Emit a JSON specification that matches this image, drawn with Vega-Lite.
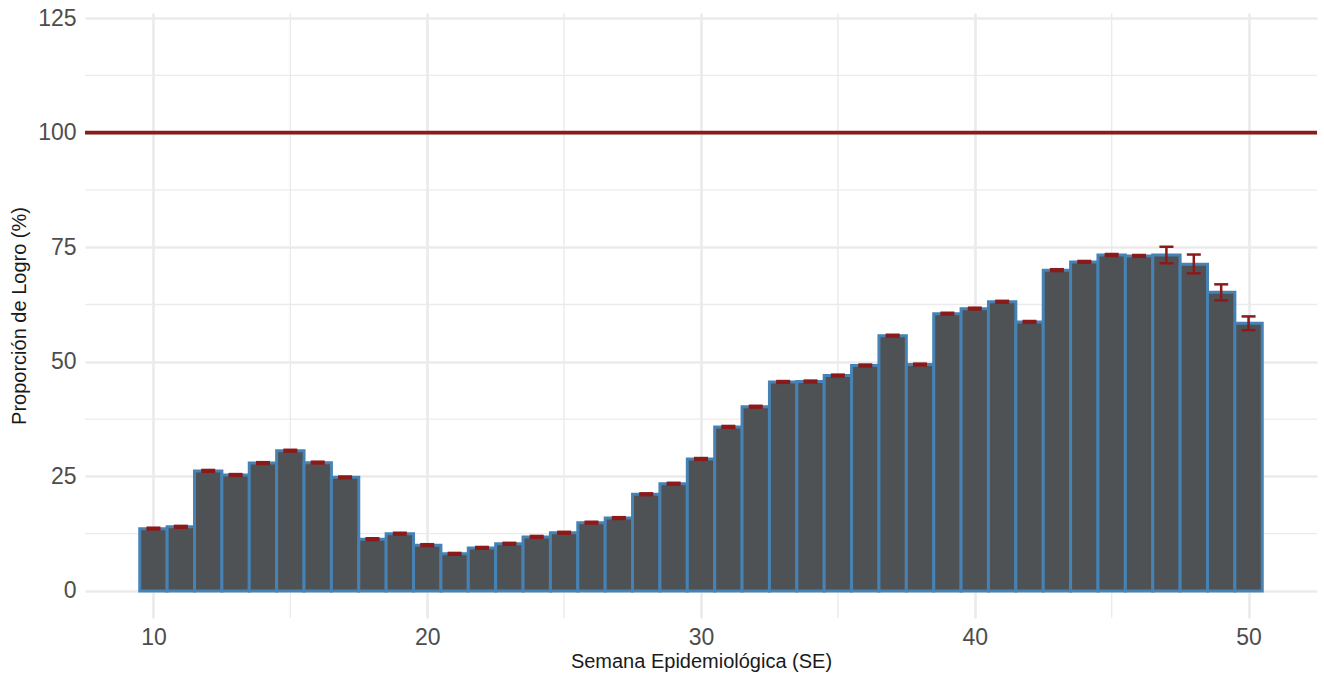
{
  "$schema": "https://vega.github.io/schema/vega-lite/v6.json",
  "width": 1232,
  "height": 605,
  "autosize": {"type": "none"},
  "padding": {"left": 85, "top": 13, "right": 7, "bottom": 62},
  "background": "white",
  "config": {
    "view": {"stroke": null},
    "font": "Liberation Sans",
    "axis": {
      "labelFont": "Liberation Sans",
      "titleFont": "Liberation Sans",
      "labelFontSize": 23,
      "labelColor": "#4d4d4d",
      "titleFontSize": 20,
      "titleFontWeight": "normal",
      "titleColor": "#1a1a1a",
      "domain": false,
      "ticks": false,
      "gridColor": "#ebebeb",
      "gridWidth": 2.7
    }
  },
  "datasets": {
    "weeks": [
      {"semana": 10, "logro": 13.6, "inf": 13.4, "sup": 13.8},
      {"semana": 11, "logro": 14.0, "inf": 13.8, "sup": 14.2},
      {"semana": 12, "logro": 26.2, "inf": 26.0, "sup": 26.4},
      {"semana": 13, "logro": 25.3, "inf": 25.1, "sup": 25.5},
      {"semana": 14, "logro": 27.9, "inf": 27.7, "sup": 28.1},
      {"semana": 15, "logro": 30.6, "inf": 30.4, "sup": 30.8},
      {"semana": 16, "logro": 28.0, "inf": 27.8, "sup": 28.2},
      {"semana": 17, "logro": 24.8, "inf": 24.6, "sup": 25.0},
      {"semana": 18, "logro": 11.3, "inf": 11.1, "sup": 11.5},
      {"semana": 19, "logro": 12.5, "inf": 12.3, "sup": 12.7},
      {"semana": 20, "logro": 10.0, "inf": 9.8, "sup": 10.2},
      {"semana": 21, "logro": 8.1, "inf": 7.9, "sup": 8.3},
      {"semana": 22, "logro": 9.4, "inf": 9.2, "sup": 9.6},
      {"semana": 23, "logro": 10.3, "inf": 10.1, "sup": 10.5},
      {"semana": 24, "logro": 11.8, "inf": 11.6, "sup": 12.0},
      {"semana": 25, "logro": 12.7, "inf": 12.5, "sup": 12.9},
      {"semana": 26, "logro": 14.9, "inf": 14.7, "sup": 15.1},
      {"semana": 27, "logro": 15.9, "inf": 15.7, "sup": 16.1},
      {"semana": 28, "logro": 21.1, "inf": 20.9, "sup": 21.3},
      {"semana": 29, "logro": 23.4, "inf": 23.2, "sup": 23.6},
      {"semana": 30, "logro": 28.8, "inf": 28.6, "sup": 29.0},
      {"semana": 31, "logro": 35.8, "inf": 35.6, "sup": 36.0},
      {"semana": 32, "logro": 40.2, "inf": 40.0, "sup": 40.4},
      {"semana": 33, "logro": 45.6, "inf": 45.4, "sup": 45.8},
      {"semana": 34, "logro": 45.7, "inf": 45.5, "sup": 45.9},
      {"semana": 35, "logro": 47.0, "inf": 46.8, "sup": 47.2},
      {"semana": 36, "logro": 49.2, "inf": 49.0, "sup": 49.4},
      {"semana": 37, "logro": 55.7, "inf": 55.5, "sup": 55.9},
      {"semana": 38, "logro": 49.4, "inf": 49.2, "sup": 49.6},
      {"semana": 39, "logro": 60.5, "inf": 60.3, "sup": 60.7},
      {"semana": 40, "logro": 61.6, "inf": 61.4, "sup": 61.8},
      {"semana": 41, "logro": 63.1, "inf": 62.9, "sup": 63.3},
      {"semana": 42, "logro": 58.7, "inf": 58.5, "sup": 58.9},
      {"semana": 43, "logro": 70.0, "inf": 69.8, "sup": 70.2},
      {"semana": 44, "logro": 71.8, "inf": 71.6, "sup": 72.0},
      {"semana": 45, "logro": 73.3, "inf": 73.1, "sup": 73.5},
      {"semana": 46, "logro": 73.1, "inf": 72.9, "sup": 73.3},
      {"semana": 47, "logro": 73.3, "inf": 71.5, "sup": 75.1},
      {"semana": 48, "logro": 71.3, "inf": 69.3, "sup": 73.4},
      {"semana": 49, "logro": 65.2, "inf": 63.4, "sup": 66.9},
      {"semana": 50, "logro": 58.4, "inf": 56.9, "sup": 59.9}
    ],
    "minorX": [{"v": 15}, {"v": 25}, {"v": 35}, {"v": 45}],
    "minorY": [{"v": 12.5}, {"v": 37.5}, {"v": 62.5}, {"v": 87.5}, {"v": 112.5}],
    "meta": [{"meta": 100}]
  },
  "layer": [
    {
      "data": {"name": "minorX"},
      "mark": {"type": "rule", "color": "#ebebeb", "strokeWidth": 1.4},
      "encoding": {
        "x": {"field": "v", "type": "quantitative"}
      }
    },
    {
      "data": {"name": "minorY"},
      "mark": {"type": "rule", "color": "#ebebeb", "strokeWidth": 1.4},
      "encoding": {
        "y": {"field": "v", "type": "quantitative"}
      }
    },
    {
      "data": {"name": "weeks"},
      "mark": {"type": "bar", "width": 27.38, "fill": "#4f5255", "stroke": "#4682b4", "strokeWidth": 3},
      "encoding": {
        "x": {
          "field": "semana",
          "type": "quantitative",
          "scale": {"domain": [7.5, 52.5], "nice": false, "zero": false, "padding": 0},
          "axis": {"values": [10, 20, 30, 40, 50], "labelPadding": 8, "titlePadding": 2, "title": "Semana Epidemiológica (SE)"}
        },
        "y": {
          "field": "logro",
          "type": "quantitative",
          "scale": {"domain": [-5.9, 126.1], "nice": false, "zero": false, "padding": 0},
          "axis": {"values": [0, 25, 50, 75, 100, 125], "labelPadding": 9, "titlePadding": 8, "title": "Proporción de Logro (%)"}
        }
      }
    },
    {
      "data": {"name": "weeks"},
      "mark": {"type": "rule", "color": "#8b1a1a", "strokeWidth": 2.5},
      "encoding": {
        "x": {"field": "semana", "type": "quantitative"},
        "y": {"field": "inf", "type": "quantitative"},
        "y2": {"field": "sup"}
      }
    },
    {
      "data": {"name": "weeks"},
      "mark": {"type": "tick", "orient": "horizontal", "color": "#8b1a1a", "size": 14, "thickness": 2.5, "opacity": 1},
      "encoding": {
        "x": {"field": "semana", "type": "quantitative"},
        "y": {"field": "inf", "type": "quantitative"}
      }
    },
    {
      "data": {"name": "weeks"},
      "mark": {"type": "tick", "orient": "horizontal", "color": "#8b1a1a", "size": 14, "thickness": 2.5, "opacity": 1},
      "encoding": {
        "x": {"field": "semana", "type": "quantitative"},
        "y": {"field": "sup", "type": "quantitative"}
      }
    },
    {
      "data": {"name": "meta"},
      "mark": {"type": "rule", "color": "#8b1a1a", "strokeWidth": 3.8},
      "encoding": {
        "y": {"field": "meta", "type": "quantitative"}
      }
    }
  ]
}
